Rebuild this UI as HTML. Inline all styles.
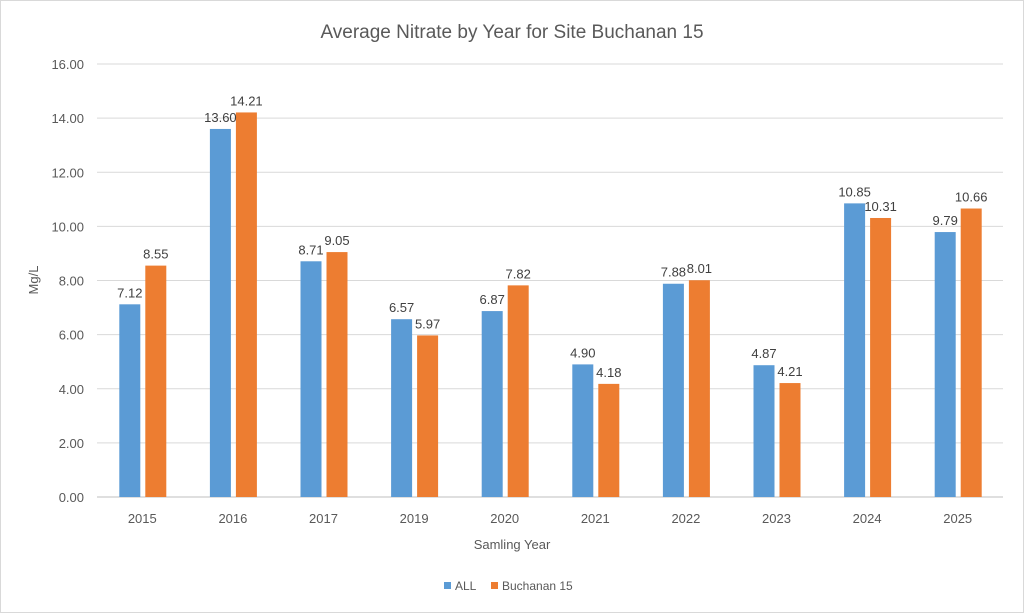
<!DOCTYPE html>
<html><head><meta charset="utf-8"><style>
body{margin:0;background:#fff}
svg{display:block;font-family:"Liberation Sans",sans-serif}
</style></head><body>
<svg id="c" width="1024" height="613">
<rect x="0.5" y="0.5" width="1023" height="612" fill="#fff" stroke="#d9d9d9"/>
<text x="512" y="38" text-anchor="middle" font-size="19" fill="#595959">Average Nitrate by Year for Site Buchanan 15</text>
<text x="512" y="549" text-anchor="middle" font-size="13" fill="#595959">Samling Year</text>
<text transform="translate(38,280) rotate(-90)" text-anchor="middle" font-size="13" fill="#595959">Mg/L</text>
<g id="grid"></g><g id="bars"></g><g id="labels"></g>
<g>
<rect x="444" y="582" width="7" height="7" fill="#5b9bd5"/>
<text x="455" y="590" font-size="12" fill="#595959">ALL</text>
<rect x="491" y="582" width="7" height="7" fill="#ed7d31"/>
<text x="502" y="590" font-size="12" fill="#595959">Buchanan 15</text>
</g>
</svg>
<script>
const categories=["2015","2016","2017","2019","2020","2021","2022","2023","2024","2025"];
const allValues=[7.12,13.60,8.71,6.57,6.87,4.90,7.88,4.87,10.85,9.79];
const buchananValues=[8.55,14.21,9.05,5.97,7.82,4.18,8.01,4.21,10.31,10.66];
const yTicks=[0,2,4,6,8,10,12,14,16];
const NS="http://www.w3.org/2000/svg";
const X0=97,X1=1003,Y0=497,Y1=64,YMAX=16;
const y=v=>Y0-(v/YMAX)*(Y0-Y1);
const bw=(X1-X0)/categories.length;
const xc=i=>X0+bw*(i+0.5);
function mk(tag,attrs,parent,text){const e=document.createElementNS(NS,tag);for(const k in attrs)e.setAttribute(k,attrs[k]);if(text!==undefined)e.textContent=text;document.getElementById(parent).appendChild(e);return e;}
yTicks.forEach(t=>{
  const l=mk("line",{x1:X0,x2:X1,y1:y(t),y2:y(t),stroke:t===0?"#bfbfbf":"#d9d9d9","stroke-width":1},"grid");
  
  
  const tx=mk("text",{x:84,y:y(t)+5,"text-anchor":"end","font-size":13,fill:"#595959"},"grid",t.toFixed(2));
  
  
});
categories.forEach((c,i)=>{
  const cx=xc(i);
  const tx=mk("text",{x:cx,y:523,"text-anchor":"middle","font-size":13,fill:"#595959"},"labels",c);
  
  
  [[allValues[i],cx-23,"#5b9bd5"],[buchananValues[i],cx+3,"#ed7d31"]].forEach(([v,x,col],k)=>{
    const r=mk("rect",{x:x,y:y(v),width:21,height:Y0-y(v),fill:col},"bars");
    
    
    const lb=mk("text",{x:x+10.5,y:y(v)-7,"text-anchor":"middle","font-size":13,fill:"#404040"},"labels",v.toFixed(2));
    
    
  });
});
</script>
</body></html>
